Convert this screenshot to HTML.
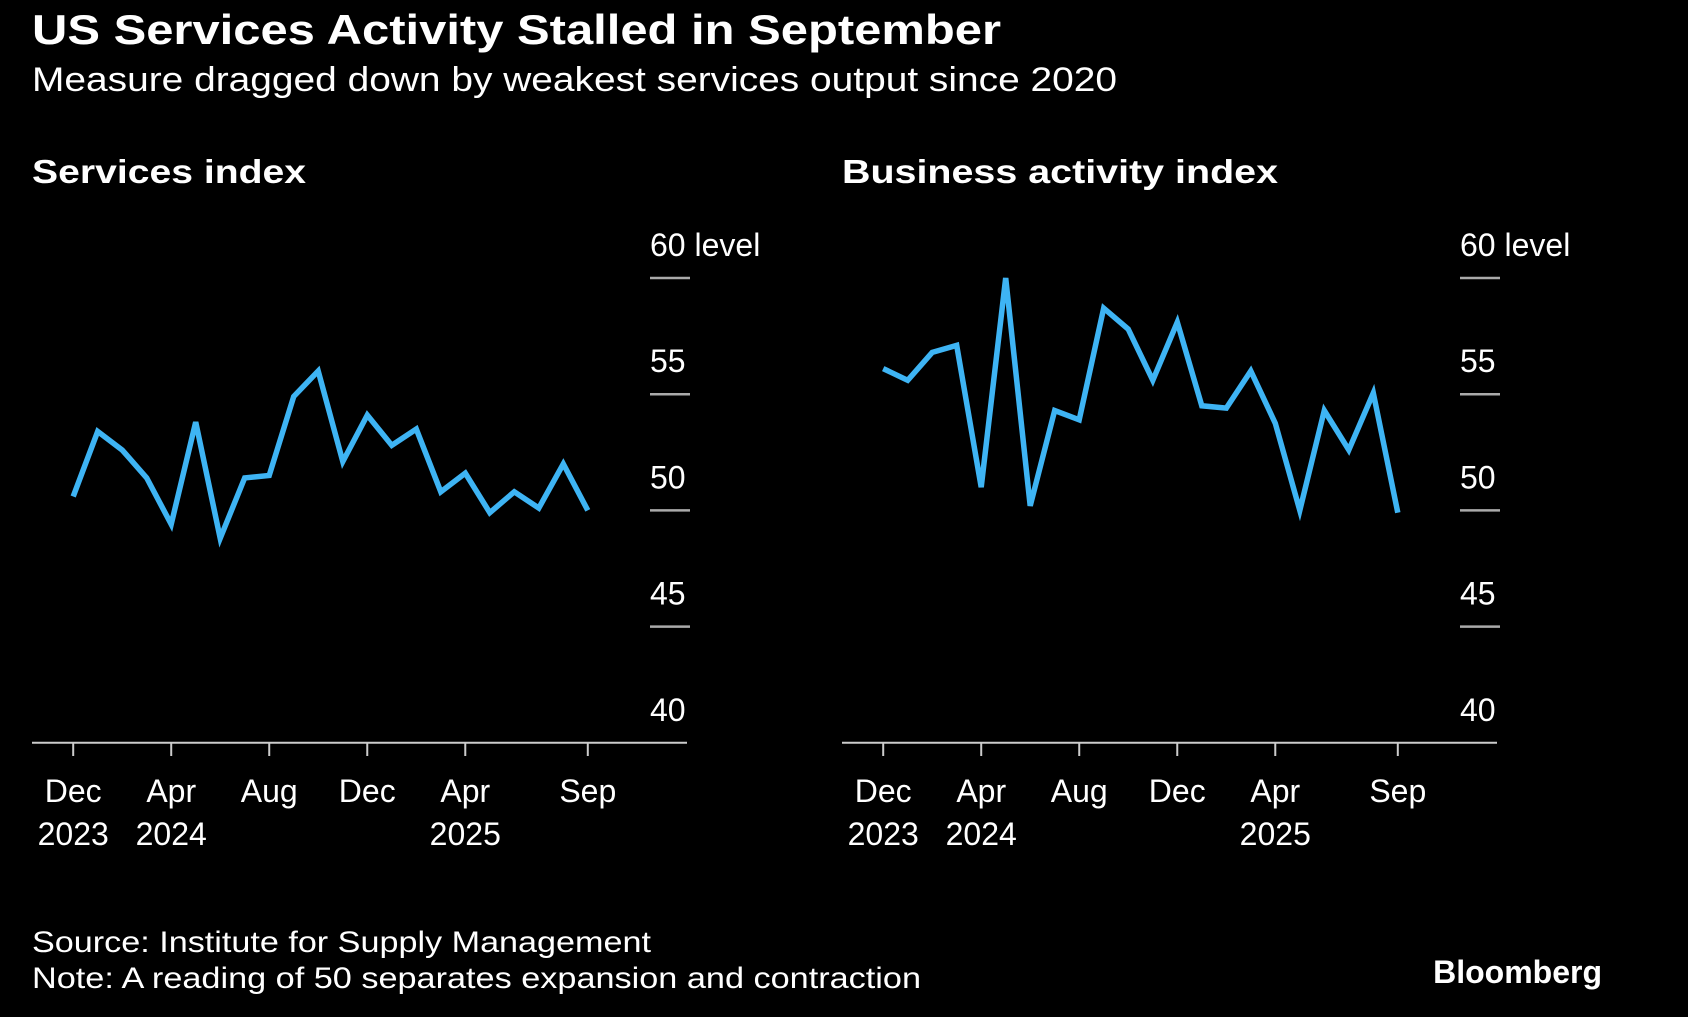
<!DOCTYPE html>
<html><head><meta charset="utf-8"><style>
html,body{margin:0;padding:0;background:#000;}
svg{display:block;}
text{font-family:"Liberation Sans",sans-serif;fill:#fff;}
</style></head><body>
<svg id="c" width="1688" height="1017" viewBox="0 0 1688 1017">
<rect width="1688" height="1017" fill="#000"/>
<text x="32" y="44" font-size="42" font-weight="bold" textLength="969" lengthAdjust="spacingAndGlyphs">US Services Activity Stalled in September</text>
<text x="32" y="91" font-size="34" textLength="1085" lengthAdjust="spacingAndGlyphs">Measure dragged down by weakest services output since 2020</text>
<text x="32" y="183" font-size="33" font-weight="bold" textLength="274" lengthAdjust="spacingAndGlyphs">Services index</text>
<text x="842" y="183" font-size="33" font-weight="bold" textLength="436" lengthAdjust="spacingAndGlyphs">Business activity index</text>
<text x="32" y="952" font-size="30" fill="#ddd" textLength="619" lengthAdjust="spacingAndGlyphs">Source: Institute for Supply Management</text>
<text x="32" y="988" font-size="30" fill="#ddd" textLength="889" lengthAdjust="spacingAndGlyphs">Note: A reading of 50 separates expansion and contraction</text>
<text x="1602" y="983" font-size="32" font-weight="bold" text-anchor="end">Bloomberg</text>
<g id="p1"></g>
<g id="p2"></g>
</svg>
<script>
const services = [50.6,53.4,52.6,51.4,49.4,53.8,48.8,51.4,51.5,54.9,56.0,52.1,54.1,52.8,53.5,50.8,51.6,49.9,50.8,50.1,52.0,50.0];
const business = [56.1,55.6,56.8,57.1,51.0,60.0,50.2,54.3,53.9,58.7,57.8,55.6,58.1,54.5,54.4,56.0,53.75,50.0,54.3,52.6,55.05,49.9];
const yTicks = [40,45,50,55,60];
const xTickIdx = [0,4,8,12,16,21];
const xTickTop = ["Dec","Apr","Aug","Dec","Apr","Sep"];
const xTickBottom = ["2023","2024","","","2025",""];
const NS="http://www.w3.org/2000/svg";
function mk(parent,tag,attrs){const e=document.createElementNS(NS,tag);for(const k in attrs)e.setAttribute(k,attrs[k]);parent.appendChild(e);return e;}
function panel(g,data,ox,name){
  const x0=ox+73.2, x1=ox+587.8;
  const xs=i=>x0+(x1-x0)*i/(data.length-1);
  const ys=v=>742.8-(v-40)*23.24;
  const ax=mk(g,'line',{x1:ox+32,x2:ox+687,y1:742.8,y2:742.8,stroke:'#ccc','stroke-width':2});
  
  
  yTicks.forEach(t=>{
    if(t>40){const l=mk(g,'line',{x1:ox+650,x2:ox+690,y1:ys(t),y2:ys(t),stroke:'#aaa','stroke-width':2.5});
    
    }
    const tx=mk(g,'text',{x:ox+650,y:ys(t)-22,'font-size':32});
    tx.textContent=t+(t===60?'  level':'');
    tx.setAttribute('xml:space','preserve');
    
    
  });
  xTickIdx.forEach((idx,k)=>{
    const x=xs(idx);
    const tk=mk(g,'line',{x1:x,x2:x,y1:742.8,y2:756,stroke:'#ccc','stroke-width':2});
    
    
    const t1=mk(g,'text',{x:x,y:802,'font-size':32,'text-anchor':'middle'});
    t1.textContent=xTickTop[k];
    
    
    if(xTickBottom[k]){const t2=mk(g,'text',{x:x,y:845,'font-size':32,'text-anchor':'middle'});
    t2.textContent=xTickBottom[k];
    
    }
  });
  const d=data.map((v,i)=>(i?'L':'M')+xs(i).toFixed(1)+' '+ys(v).toFixed(1)).join(' ');
  const p=mk(g,'path',{d:d,fill:'none',stroke:'#3eb4f4','stroke-width':5.5,'stroke-linejoin':'miter'});
  
  
}
panel(document.getElementById('p1'),services,0,'services-line');
panel(document.getElementById('p2'),business,810,'business-activity-line');
</script>
</body></html>
